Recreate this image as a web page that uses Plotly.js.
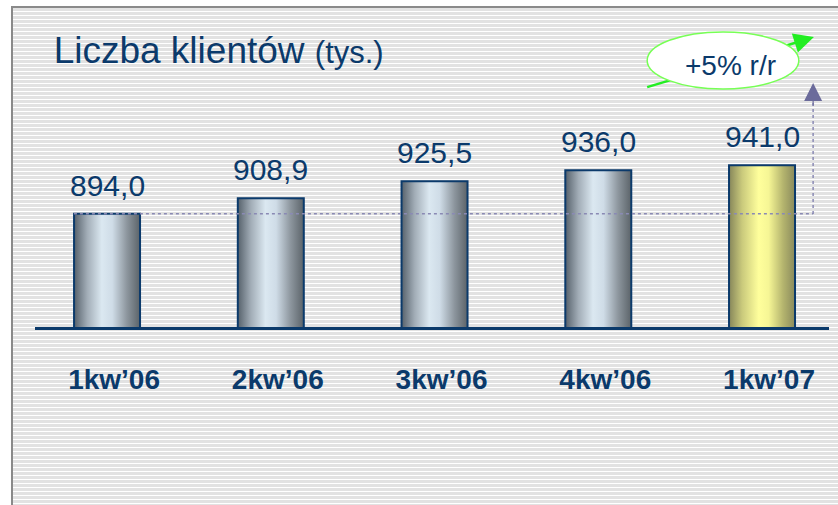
<!DOCTYPE html>
<html>
<head>
<meta charset="utf-8">
<script src="https://cdn.plot.ly/plotly-3.0.1.min.js"></script>
<style>
  body { margin: 0; background: #fff; }
  #bg {
    position: absolute; left: 11px; top: 6px; width: 827px; height: 499px;
    border-left: 2px solid #8a8a8a; border-top: 2px solid #8a8a8a;
    background: repeating-linear-gradient(to bottom, #e2e2e2 0px, #e2e2e2 3px, #ffffff 3px, #ffffff 4px);
  }
  #chart { position: absolute; left: 0; top: 0; width: 838px; height: 505px; }
</style>
</head>
<body>
<div id="bg"></div>
<div id="chart"></div>
<script>
var CHART = document.getElementById("chart");

// quarters and number of clients (thousands)
var quarters = ["1kw’06", "2kw’06", "3kw’06", "4kw’06", "1kw’07"];
var clients = [894.0, 908.9, 925.5, 936.0, 941.0];
var growthLabel = "+5% r/r";

var navy = "#0b3a6b";

var data = [
    {
        x: quarters,
        y: clients,
        type: "bar",
        marker: {
            color: ["#b8c4ce", "#b8c4ce", "#b8c4ce", "#b8c4ce", "#e8e88a"],
            line: { color: navy, width: 2 }
        },
        hoverinfo: "skip"
    }
];

// value labels over the bars
var annotations = quarters.map(function (q, i) {
    return {
        x: q, y: clients[i], xref: "x", yref: "y",
        text: clients[i].toFixed(1).replace(".", ","),
        showarrow: false, xanchor: "center", yanchor: "bottom", yshift: 10,
        font: { family: "Arial, Liberation Sans, sans-serif", size: 30, color: navy }
    };
});

// ellipse text
annotations.push({
    x: 0.876, y: 0.82, xref: "paper", yref: "paper",
    xanchor: "center", yanchor: "middle",
    text: growthLabel, showarrow: false,
    font: { family: "Arial, Liberation Sans, sans-serif", size: 28, color: navy }
});
// head of the dotted arrow
annotations.push({
    x: 0.98, y: 0.765, xref: "paper", yref: "paper", text: "",
    showarrow: true, ax: 0, ay: 24, arrowhead: 2, arrowsize: 3,
    arrowwidth: 1.2, arrowcolor: "#6b6b9b"
});
// head of the green arrow
annotations.push({
    x: 0.981, y: 0.909, xref: "paper", yref: "paper", text: "",
    showarrow: true, ax: -19, ay: 6, arrowhead: 2, arrowsize: 1.6,
    arrowwidth: 2.5, arrowcolor: "#22ee22"
});

var shapes = [
    // dotted level of the first quarter
    { type: "line", xref: "paper", yref: "y", x0: 0.049, x1: 0.98, y0: clients[0], y1: clients[0],
      line: { color: "#8a8ab4", width: 1.5, dash: "dot" } },
    { type: "line", xref: "paper", yref: "paper", x0: 0.98, x1: 0.98, y0: (327 - 214) / 319, y1: 0.73,
      line: { color: "#8a8ab4", width: 1.5, dash: "dot" } },
    // green arrow shaft (behind the ellipse)
    { type: "line", xref: "paper", yref: "paper", x0: 0.771, y0: 0.752, x1: 0.962, y1: 0.894,
      line: { color: "#22ee22", width: 2.5 } },
    { type: "circle", xref: "paper", yref: "paper", x0: 0.771, x1: 0.962, y0: 0.746, y1: 0.925,
      fillcolor: "#ffffff", line: { color: "#77ff55", width: 1.5 } }
];

var layout = {
    width: 838,
    height: 505,
    margin: { l: 35, r: 9, t: 8, b: 178 },
    paper_bgcolor: "rgba(0,0,0,0)",
    plot_bgcolor: "rgba(0,0,0,0)",
    showlegend: false,
    bargap: 0.597,
    title: {
        text: "Liczba klientów <span style=\"font-size:31px\">(tys.)</span>",
        x: 0.064, xanchor: "left", xref: "container",
        y: 0.9, yanchor: "middle",
        font: { family: "Arial, Liberation Sans, sans-serif", size: 37, color: navy }
    },
    xaxis: {
        type: "category",
        range: [-0.44, 4.409],
        showline: true, linecolor: navy, linewidth: 3,
        ticks: "", showgrid: false, zeroline: false,
        ticklabelstandoff: 25, ticklabelshift: 7,
        tickfont: { family: "Arial, Liberation Sans, sans-serif", size: 28, color: navy, weight: "bold" }
    },
    yaxis: {
        range: [784.5, 1093],
        visible: false, showgrid: false, zeroline: false
    },
    annotations: annotations,
    shapes: shapes
};

var config = { displayModeBar: false, staticPlot: true };

Plotly.newPlot(CHART, data, layout, config).then(function () {
    // metallic gradients for the bars
    var svgNS = "http://www.w3.org/2000/svg";
    var defs = CHART.querySelector("svg.main-svg defs");
    function addGradient(id, stops) {
        var g = document.createElementNS(svgNS, "linearGradient");
        g.setAttribute("id", id);
        g.setAttribute("x1", "0"); g.setAttribute("x2", "1");
        g.setAttribute("y1", "0"); g.setAttribute("y2", "0");
        stops.forEach(function (s) {
            var st = document.createElementNS(svgNS, "stop");
            st.setAttribute("offset", s[0]);
            st.setAttribute("stop-color", s[1]);
            g.appendChild(st);
        });
        defs.appendChild(g);
    }
    addGradient("gBlue", [["0", "#56616b"], ["0.2", "#a2adb7"], ["0.42", "#dbe8f1"],
                          ["0.58", "#cfdce7"], ["0.8", "#8d969e"], ["1", "#5b6369"]]);
    addGradient("gYellow", [["0", "#86865a"], ["0.2", "#caca7c"], ["0.45", "#ffff9c"],
                            ["0.6", "#f6f695"], ["0.82", "#b4b46e"], ["1", "#8a8a5c"]]);
    var paths = CHART.querySelectorAll(".bars .point path");
    paths.forEach(function (p, i) {
        p.style.fill = (i === paths.length - 1) ? "url(#gYellow)" : "url(#gBlue)";
    });
});
</script>
</body>
</html>
